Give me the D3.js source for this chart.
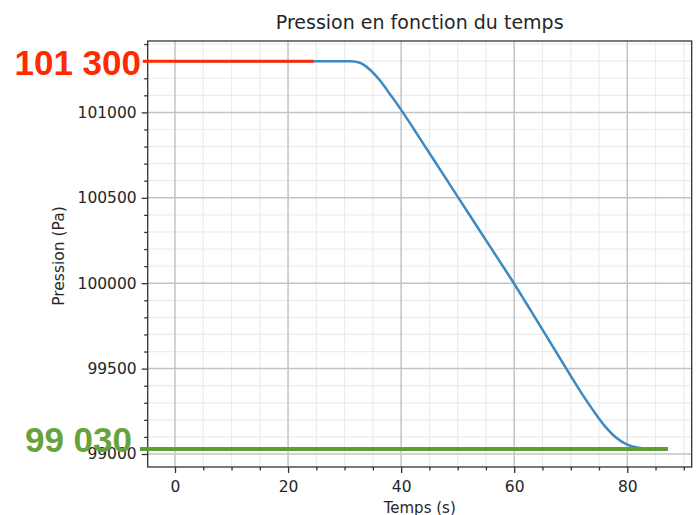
<!DOCTYPE html>
<html>
<head>
<meta charset="utf-8">
<script src="https://cdn.jsdelivr.net/npm/d3@7"></script>
<style>
  body { margin: 0; background: #fff; }
  svg text { font-family: "DejaVu Sans", sans-serif; }
</style>
</head>
<body>
<div id="chart"></div>
<script>
// donnees
var temps = [0, 10, 20, 30, 31, 32.7, 34.5, 36.3, 38, 40, 42, 44, 46, 48, 50, 52, 54, 56, 58,
             60, 62, 64, 66, 68, 70, 72, 74, 76, 78, 80, 82, 84, 87];
var pression = [101300, 101300, 101300, 101300, 101300, 101291, 101250, 101185, 101108, 101015,
                100915, 100813, 100711, 100609, 100507, 100405, 100303, 100201, 100099,
                99997, 99890, 99782, 99674, 99566, 99458, 99352, 99254, 99165, 99097, 99055,
                99037, 99032, 99030];
var xTicks = [0, 20, 40, 60, 80];
var yTicks = [99000, 99500, 100000, 100500, 101000];
var pHaut = 101300, pBas = 99030;
var ligneRouge = [-5.7, 24.5];
var ligneVerte = [-6.2, 87.2];
var etiquetteHaut = "101 300", etiquetteBas = "99 030";

var width = 698, height = 515;
var margin = { top: 41, right: 6.3, bottom: 48, left: 147.7 };

var svg = d3.select("#chart").append("svg")
    .attr("width", width)
    .attr("height", height);

var x = d3.scaleLinear().domain([-4.83, 91.4]).range([margin.left, width - margin.right]);
var y = d3.scaleLinear().domain([98924, 101418]).range([height - margin.bottom, margin.top]);

var x0 = margin.left, x1 = width - margin.right, y0 = margin.top, y1 = height - margin.bottom;

var xMinor = d3.range(-5, 92, 5).filter(function (d) { return x(d) > x0 && x(d) < x1 && d % 20 != 0; });
var yMinor = d3.range(98900, 101500, 100).filter(function (d) { return y(d) < y1 && y(d) > y0 && d % 500 != 0; });

// grille mineure
svg.append("g").selectAll("line").data(xMinor).enter().append("line")
    .attr("x1", function (d) { return x(d); }).attr("x2", function (d) { return x(d); })
    .attr("y1", y0).attr("y2", y1)
    .style("stroke", "#ececec").style("stroke-width", "1.2px");
svg.append("g").selectAll("line").data(yMinor).enter().append("line")
    .attr("y1", function (d) { return y(d); }).attr("y2", function (d) { return y(d); })
    .attr("x1", x0).attr("x2", x1)
    .style("stroke", "#ececec").style("stroke-width", "1.2px");

// grille majeure
svg.append("g").selectAll("line").data(xTicks).enter().append("line")
    .attr("x1", function (d) { return x(d); }).attr("x2", function (d) { return x(d); })
    .attr("y1", y0).attr("y2", y1)
    .style("stroke", "#c4c4c4").style("stroke-width", "1.5px");
svg.append("g").selectAll("line").data(yTicks).enter().append("line")
    .attr("y1", function (d) { return y(d); }).attr("y2", function (d) { return y(d); })
    .attr("x1", x0).attr("x2", x1)
    .style("stroke", "#c4c4c4").style("stroke-width", "1.5px");

// courbe
var ligne = d3.line()
    .x(function (d, i) { return x(temps[i]); })
    .y(function (d) { return y(d); })
    .curve(d3.curveMonotoneX);

svg.append("path")
    .datum(pression)
    .attr("d", ligne)
    .style("fill", "none")
    .style("stroke", "#3b8ac4")
    .style("stroke-width", "2.5px");

// cadre
svg.append("rect")
    .attr("x", x0).attr("y", y0)
    .attr("width", x1 - x0).attr("height", y1 - y0)
    .style("fill", "none").style("stroke", "#333").style("stroke-width", "1.3px");

// axes
var axeX = d3.axisBottom(x).tickValues(xTicks).tickSize(6).tickPadding(8).tickFormat(d3.format("d"));
var axeXMin = d3.axisBottom(x).tickValues(xMinor).tickSize(3.5).tickFormat("");
var axeY = d3.axisLeft(y).tickValues(yTicks).tickSize(6).tickPadding(5).tickFormat(d3.format("d"));
var axeYMin = d3.axisLeft(y).tickValues(yMinor).tickSize(3.5).tickFormat("");

[[axeXMin, "b"], [axeX, "b"], [axeYMin, "l"], [axeY, "l"]].forEach(function (a) {
    var g = svg.append("g")
        .attr("transform", a[1] == "b" ? "translate(0," + y1 + ")" : "translate(" + x0 + ",0)")
        .call(a[0]);
    g.select(".domain").remove();
    g.selectAll("line").style("stroke", "#333").style("stroke-width", "1.3px");
    g.selectAll("text").style("font-size", "15.5px").style("fill", "#262626")
        .style("font-family", "DejaVu Sans");
});

// titres
svg.append("text")
    .attr("x", (x0 + x1) / 2).attr("y", 29)
    .attr("text-anchor", "middle")
    .style("font-size", "19px").style("fill", "#262626")
    .text("Pression en fonction du temps");

svg.append("text")
    .attr("x", (x0 + x1) / 2).attr("y", 513)
    .attr("text-anchor", "middle")
    .style("font-size", "15px").style("fill", "#262626")
    .text("Temps (s)");

svg.append("text")
    .attr("transform", "translate(64," + ((y0 + y1) / 2 + 2) + ") rotate(-90)")
    .attr("text-anchor", "middle")
    .style("font-size", "15.5px").style("fill", "#262626")
    .text("Pression (Pa)");

// annotations
svg.append("line")
    .attr("x1", x(ligneRouge[0])).attr("x2", x(ligneRouge[1]))
    .attr("y1", y(pHaut)).attr("y2", y(pHaut))
    .style("stroke", "#ff2a00").style("stroke-width", "3px");

svg.append("line")
    .attr("x1", x(ligneVerte[0])).attr("x2", x(ligneVerte[1]))
    .attr("y1", y(pBas)).attr("y2", y(pBas))
    .style("stroke", "#5f9e36").style("stroke-width", "4px");

svg.append("text")
    .attr("x", 141).attr("y", y(pHaut) + 13.5)
    .attr("text-anchor", "end")
    .style("font-family", "Liberation Sans, Arial, sans-serif")
    .style("font-weight", "bold").style("font-size", "35px")
    .style("fill", "#ff2a00")
    .text(etiquetteHaut);

svg.append("text")
    .attr("x", 132).attr("y", y(pBas) + 3)
    .attr("text-anchor", "end")
    .style("font-family", "Liberation Sans, Arial, sans-serif")
    .style("font-weight", "bold").style("font-size", "35px")
    .style("fill", "#66a33d")
    .text(etiquetteBas);
</script>
</body>
</html>
